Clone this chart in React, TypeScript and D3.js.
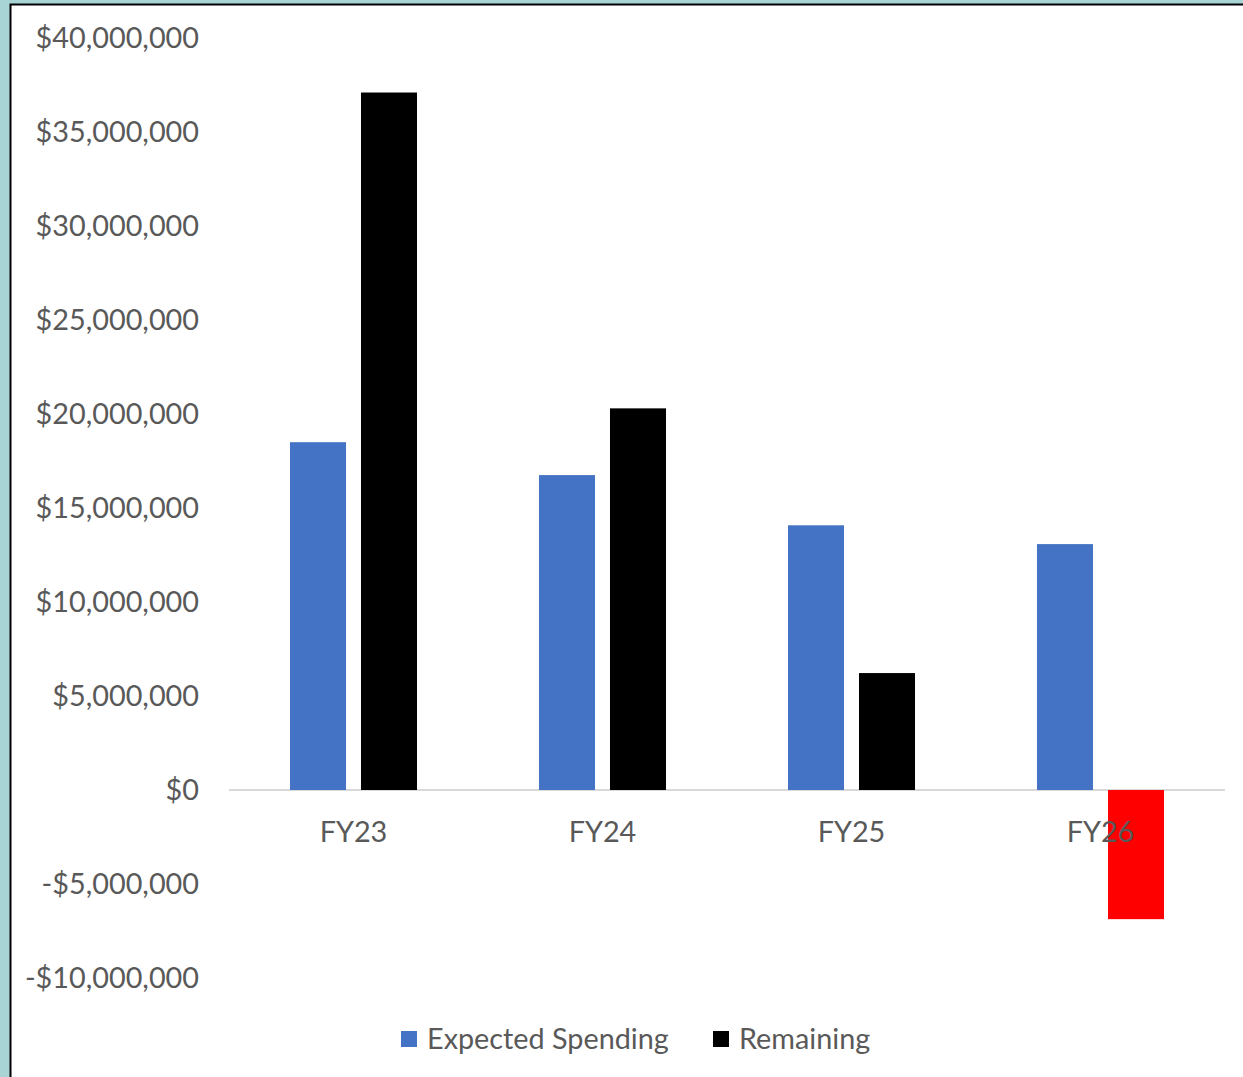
import React from "react";
import * as d3 from "d3";

const categories = ["FY23", "FY24", "FY25", "FY26"];
const expectedSpending = [18500000, 16750000, 14080000, 13080000];
const remaining = [37100000, 20300000, 6220000, -6870000];
const yTicks = [40000000, 35000000, 30000000, 25000000, 20000000, 15000000, 10000000, 5000000, 0, -5000000, -10000000];
const seriesNames = ["Expected Spending", "Remaining"];

const W = 1243;
const H = 1077;
const FONT = "Lato, 'Open Sans', sans-serif";
const FS = 28.8;

export default function App() {
  const y = d3.scaleLinear().domain([-10000000, 40000000]).range([978, 38]);
  const x = d3.scaleBand().domain(categories).range([229, 1225]).paddingInner(0).paddingOuter(0);
  const inner = d3.scaleBand().domain(seriesNames).range([0, x.bandwidth()]).paddingInner(0.211).paddingOuter(0.859);

  const fmt = (v: number) => (v < 0 ? "-" : "") + "$" + d3.format(",")(Math.abs(v));

  return (
    <svg width={W} height={H} style={{ position: "absolute", left: 0, top: 0 }} fontFamily={FONT}>
      <rect x={0} y={0} width={W} height={H} fill="#a9d4d6" />
      <rect x={10.5} y={4.5} width={W} height={H} fill="#ffffff" stroke="#000" strokeWidth={2} />
      {yTicks.map((t) => (
        <text key={t} x={199} y={y(t)} dy="0.35em" textAnchor="end" fontSize={FS} fill="#595959">
          {fmt(t)}
        </text>
      ))}
      <line x1={229} x2={1225} y1={y(0)} y2={y(0)} stroke="#d9d9d9" strokeWidth={2} />
      {categories.map((c, i) => {
        const vals = [expectedSpending[i], remaining[i]];
        return (
          <g key={c}>
            {vals.map((v, j) => {
              const fill = j === 0 ? "#4472c4" : v < 0 ? "#ff0000" : "#000000";
              return (
                <rect
                  key={j}
                  x={(x(c) as number) + (inner(seriesNames[j]) as number)}
                  y={Math.min(y(v), y(0))}
                  width={inner.bandwidth()}
                  height={Math.abs(y(v) - y(0))}
                  fill={fill}
                />
              );
            })}
          </g>
        );
      })}
      {categories.map((c) => (
        <text key={c} x={(x(c) as number) + x.bandwidth() / 2} y={832} dy="0.35em" textAnchor="middle" fontSize={FS} fill="#595959">
          {c}
        </text>
      ))}
      <g>
        <rect x={401} y={1031} width={16} height={16} fill="#4472c4" />
        <text x={427} y={1039} dy="0.35em" fontSize={FS} fill="#595959">{seriesNames[0]}</text>
        <rect x={713} y={1031} width={16} height={16} fill="#000000" />
        <text x={739} y={1039} dy="0.35em" fontSize={FS} fill="#595959">{seriesNames[1]}</text>
      </g>
    </svg>
  );
}
